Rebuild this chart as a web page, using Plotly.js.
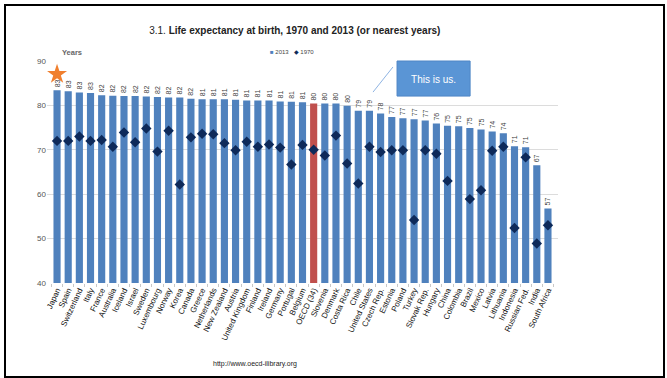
<!DOCTYPE html>
<html>
<head>
<meta charset="utf-8">
<script src="https://cdn.plot.ly/plotly-3.0.1.min.js"></script>
<style>
  html, body { margin: 0; padding: 0; background: #ffffff; }
  #wrap { position: relative; width: 667px; height: 378px; overflow: hidden; }
  #chart { width: 667px; height: 378px; }
  #frame { position: absolute; left: 4px; top: 4px; width: 657px; height: 370px;
           border: 2px solid #000; pointer-events: none; }
</style>
</head>
<body>
<div id="wrap">
  <div id="chart"></div>
  <div id="frame"></div>
</div>
<script>
const countries = ["Japan","Spain","Switzerland","Italy","France","Australia","Iceland","Israel","Sweden","Luxembourg","Norway","Korea","Canada","Greece","Netherlands","New Zealand","Austria","United Kingdom","Finland","Ireland","Germany","Portugal","Belgium","OECD (34)","Slovenia","Denmark","Costa Rica","Chile","United States","Czech Rep.","Estonia","Poland","Turkey","Slovak Rep.","Hungary","China","Colombia","Brazil","Mexico","Latvia","Lithuania","Indonesia","Russian Fed.","India","South Africa"];
const life2013 = [83.4,83.2,82.9,82.8,82.3,82.2,82.1,82.1,82.0,81.9,81.8,81.8,81.5,81.4,81.4,81.4,81.3,81.1,81.1,81.1,80.9,80.8,80.7,80.4,80.4,80.4,79.9,78.8,78.8,78.2,77.4,77.1,76.9,76.6,75.9,75.4,75.3,74.9,74.6,74.1,73.7,70.8,70.6,66.5,56.8];
const life1970 = [72.0,72.0,73.0,72.0,72.2,70.7,73.9,71.7,74.8,69.6,74.3,62.2,72.8,73.6,73.5,71.5,69.9,71.8,70.7,71.2,70.5,66.7,71.1,70.0,68.7,73.2,66.9,62.4,70.7,69.5,69.9,69.9,54.2,69.9,69.1,63.0,null,58.9,60.9,69.8,70.7,52.4,68.3,48.9,53.0];
const highlight = "OECD (34)";
const starCountry = ["Japan"];
const starValue = [87];
const yTicks = [40,50,60,70,80,90];
const seriesNames = ["2013", "1970"];

const barColors = countries.map(c => c === highlight ? "#c0504d" : "#4f81bd");
const barText = life2013.map(v => String(Math.round(v)));
const FONT = "Liberation Sans, Arial, sans-serif";

const traces = [
  {
    type: "bar", name: seriesNames[0], x: countries, y: life2013,
    marker: { color: barColors },
    text: barText, textposition: "outside", textangle: -90,
    textfont: { family: FONT, size: 7, color: "#404040" },
    constraintext: "none", cliponaxis: false
  },
  {
    type: "scatter", mode: "markers", name: seriesNames[1], x: countries, y: life1970,
    marker: { symbol: "diamond", size: 8, color: "#0e2a5a" },
    cliponaxis: false
  },
  {
    type: "scatter", mode: "markers", x: starCountry, y: starValue,
    marker: { symbol: "star", size: 15, color: "#f07f2e" }, cliponaxis: false
  }
];

const layout = {
  width: 667, height: 378,
  margin: { l: 47, r: 109, t: 61, b: 95 },
  paper_bgcolor: "#ffffff", plot_bgcolor: "#ffffff",
  font: { family: FONT, color: "#222" },
  bargap: 0.36,
  showlegend: false,
  title: {
    text: "3.1. <b>Life expectancy at birth, 1970 and 2013 (or nearest years)</b>",
    x: 0.442, xanchor: "center", xref: "container",
    y: 0.918, yanchor: "middle", yref: "container",
    font: { size: 10, color: "#222", family: FONT }
  },
  xaxis: {
    type: "category", range: [-0.9, 44.9], tickangle: -65,
    tickfont: { size: 8, color: "#111" },
    ticks: "outside", tickson: "boundaries", ticklen: 3, tickcolor: "#c8c8c8",
    showgrid: false, showline: false, zeroline: false
  },
  yaxis: {
    range: [40, 90], tickvals: yTicks, ticktext: yTicks.map(String),
    tickfont: { size: 8, color: "#555" },
    showgrid: true, gridcolor: "#dcdcdc", gridwidth: 1, zeroline: false, showline: false,
    ticks: ""
  },
  shapes: [
    { type: "rect", xref: "paper", yref: "paper", x0: 0.685, x1: 0.828, y0: 0.842, y1: 1.0,
      fillcolor: "#5a95d5", line: { color: "#4f86c6", width: 1 },
      label: { text: "This is us.", textposition: "middle center",
               font: { size: 10, color: "#ffffff", family: FONT } } },
    { type: "line", xref: "paper", yref: "paper", x0: 0.677, y0: 0.973, x1: 0.638, y1: 0.86,
      line: { color: "#8fb4e3", width: 1 } }
  ],
  annotations: [
    { text: "<b>Years</b>", xref: "paper", yref: "paper", x: 0.025, y: 1.04,
      xanchor: "left", yanchor: "middle", showarrow: false,
      font: { size: 7.5, color: "#666" } },
    { text: "<span style='color:#4f81bd'>■</span> " + seriesNames[0] +
            "   <span style='color:#0e2a5a'>◆</span> " + seriesNames[1],
      xref: "paper", yref: "paper", x: 0.48, y: 1.04,
      xanchor: "center", yanchor: "middle", showarrow: false,
      font: { size: 6, color: "#444" } },
    { text: "http://www.oecd-ilibrary.org", xref: "paper", yref: "paper", x: 0.407, y: -0.365,
      xanchor: "center", yanchor: "middle", showarrow: false,
      font: { size: 7, color: "#222" } }
  ]
};

Plotly.newPlot("chart", traces, layout, { displayModeBar: false, staticPlot: true });
</script>
</body>
</html>
